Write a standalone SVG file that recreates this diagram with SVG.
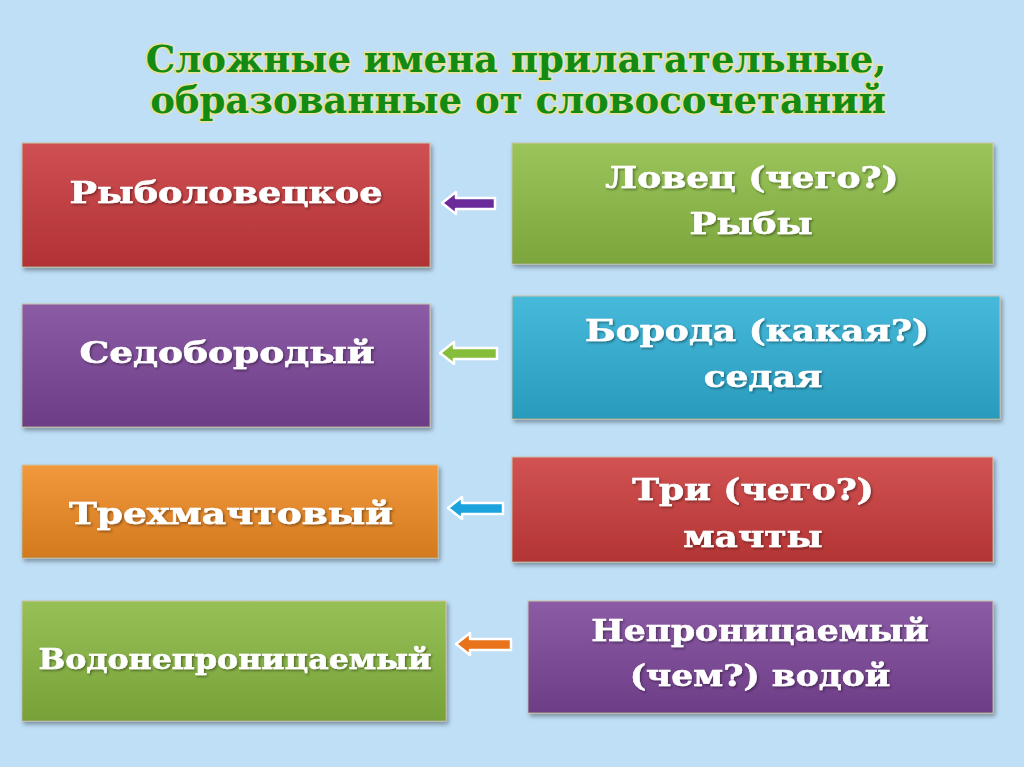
<svg xmlns="http://www.w3.org/2000/svg" width="1024" height="767" viewBox="0 0 1024 767">
<defs>
<style>
.t{font-family:"DejaVu Serif","Liberation Serif",serif;font-weight:bold;fill:#ffffff;text-anchor:middle;font-size:30px;stroke:#ffffff;stroke-width:0.6}
.title{font-family:"DejaVu Serif","Liberation Serif",serif;font-weight:bold;fill:#138a13;text-anchor:middle;font-size:37px;stroke:#e8e39a;stroke-width:3;paint-order:stroke}
.box{stroke:#c9c0a0;stroke-width:1}
</style>
<linearGradient id="shade" x1="0" y1="0" x2="0" y2="1">
<stop offset="0" stop-color="#ffffff" stop-opacity="0.12"/>
<stop offset="1" stop-color="#000000" stop-opacity="0.12"/>
</linearGradient>
<filter id="sh" x="-5%" y="-10%" width="115%" height="130%">
<feDropShadow dx="2" dy="3" stdDeviation="2" flood-color="#000" flood-opacity="0.35"/>
</filter>
<filter id="ts" x="-5%" y="-20%" width="110%" height="140%">
<feDropShadow dx="1.2" dy="1.5" stdDeviation="1" flood-color="#000" flood-opacity="0.4"/>
</filter>
</defs>
<rect width="1024" height="767" fill="#bfdff7"/>
<g id="title">
<text class="title" x="516" y="72">Сложные имена прилагательные,</text>
<text class="title" x="518" y="113">образованные от словосочетаний</text>
</g>
<g id="n1"><rect class="box" x="22" y="143" width="408" height="124" fill="#c9393a" filter="url(#sh)"/><rect x="22" y="143" width="408" height="124" fill="url(#shade)"/><text class="t" transform="translate(226,203) scale(1.22,1)" filter="url(#ts)">Рыболовецкое</text></g>
<g id="n2"><rect class="box" x="22" y="304" width="408" height="123" fill="#7b4499" filter="url(#sh)"/><rect x="22" y="304" width="408" height="123" fill="url(#shade)"/><text class="t" transform="translate(227,363) scale(1.25,1)" filter="url(#ts)">Седобородый</text></g>
<g id="n3"><rect class="box" x="22" y="465" width="416" height="93" fill="#f08a20" filter="url(#sh)"/><rect x="22" y="465" width="416" height="93" fill="url(#shade)"/><text class="t" transform="translate(231,524) scale(1.25,1)" filter="url(#ts)">Трехмачтовый</text></g>
<g id="n4"><rect class="box" x="22" y="601" width="424" height="120" fill="#88b840" filter="url(#sh)"/><rect x="22" y="601" width="424" height="120" fill="url(#shade)"/><text class="t" transform="translate(235,669) scale(1.13,1)" style="font-size:28px" filter="url(#ts)">Водонепроницаемый</text></g>
<g id="m1"><rect class="box" x="512" y="143" width="481" height="121" fill="#8dbd45" filter="url(#sh)"/><rect x="512" y="143" width="481" height="121" fill="url(#shade)"/><text class="t" transform="translate(752,188) scale(1.2,1)" filter="url(#ts)">Ловец (чего?)</text><text class="t" transform="translate(751,234) scale(1.2,1)" filter="url(#ts)">Рыбы</text></g>
<g id="m2"><rect class="box" x="512" y="296" width="488" height="123" fill="#2fb0d6" filter="url(#sh)"/><rect x="512" y="296" width="488" height="123" fill="url(#shade)"/><text class="t" transform="translate(757,341) scale(1.2,1)" filter="url(#ts)">Борода (какая?)</text><text class="t" transform="translate(763,387) scale(1.2,1)" filter="url(#ts)">седая</text></g>
<g id="m3"><rect class="box" x="512" y="457" width="481" height="105" fill="#cc3a3a" filter="url(#sh)"/><rect x="512" y="457" width="481" height="105" fill="url(#shade)"/><text class="t" transform="translate(753,500) scale(1.2,1)" filter="url(#ts)">Три (чего?)</text><text class="t" transform="translate(753,547) scale(1.2,1)" filter="url(#ts)">мачты</text></g>
<g id="m4"><rect class="box" x="528" y="601" width="465" height="112" fill="#7b4499" filter="url(#sh)"/><rect x="528" y="601" width="465" height="112" fill="url(#shade)"/><text class="t" transform="translate(760,641) scale(1.15,1)" filter="url(#ts)">Непроницаемый</text><text class="t" transform="translate(760,686) scale(1.15,1)" filter="url(#ts)">(чем?) водой</text></g>
<g id="connectors" stroke="#ffffff" stroke-width="2.5" stroke-linejoin="round">
<path d="M442,203 L456,192 L456,198 L495,198 L495,209 L456,209 L456,214 Z" fill="#6a2a9a"/>
<path d="M440,353 L454,342 L454,348 L497,348 L497,359 L454,359 L454,364 Z" fill="#86bd3a"/>
<path d="M448,508 L462,497 L462,503 L503,503 L503,514 L462,514 L462,519 Z" fill="#1aa3dc"/>
<path d="M456,644 L470,633 L470,639 L511,639 L511,650 L470,650 L470,655 Z" fill="#e8731a"/>
</g>
</svg>
